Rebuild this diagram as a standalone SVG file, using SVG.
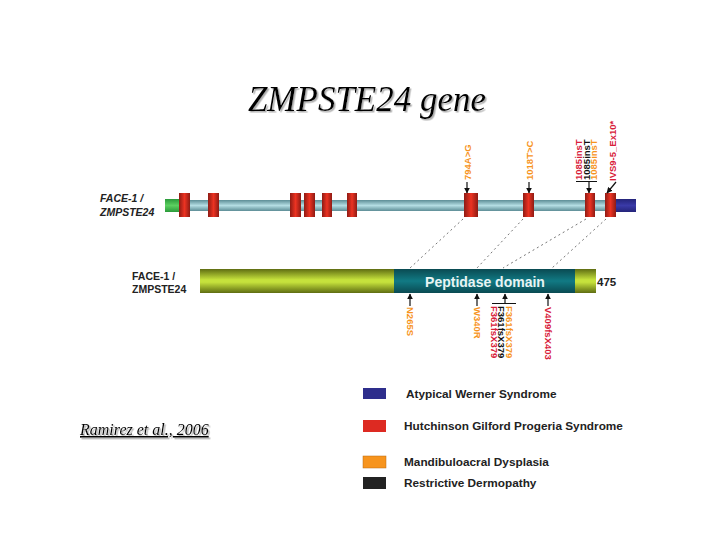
<svg xmlns="http://www.w3.org/2000/svg" width="720" height="540" viewBox="0 0 720 540">
<defs>
<linearGradient id="gBar" x1="0" y1="0" x2="0" y2="1"><stop offset="0" stop-color="#5d8d96"/><stop offset="0.5" stop-color="#b4dde3"/><stop offset="1" stop-color="#5d8d96"/></linearGradient>
<linearGradient id="gExon" x1="0" y1="0" x2="1" y2="0"><stop offset="0" stop-color="#8e1b14"/><stop offset="0.5" stop-color="#ec3322"/><stop offset="1" stop-color="#8e1b14"/></linearGradient>
<linearGradient id="gGreen" x1="0" y1="0" x2="0" y2="1"><stop offset="0" stop-color="#2a9a3a"/><stop offset="0.5" stop-color="#5cd060"/><stop offset="1" stop-color="#2a9a3a"/></linearGradient>
<linearGradient id="gBlue" x1="0" y1="0" x2="0" y2="1"><stop offset="0" stop-color="#24247a"/><stop offset="0.5" stop-color="#3a3aa8"/><stop offset="1" stop-color="#24247a"/></linearGradient>
<linearGradient id="gProt" x1="0" y1="0" x2="0" y2="1"><stop offset="0" stop-color="#5f6d12"/><stop offset="0.45" stop-color="#c6e23c"/><stop offset="0.55" stop-color="#c6e23c"/><stop offset="1" stop-color="#5f6d12"/></linearGradient>
<linearGradient id="gDom" x1="0" y1="0" x2="0" y2="1"><stop offset="0" stop-color="#0a4a52"/><stop offset="0.5" stop-color="#117a84"/><stop offset="1" stop-color="#0a4a52"/></linearGradient>
<marker id="ah" viewBox="0 0 10 10" refX="9" refY="5" markerWidth="5" markerHeight="5" orient="auto"><path d="M0,0 L10,5 L0,10 z" fill="#111"/></marker>
<filter id="sh" x="-5%" y="-20%" width="110%" height="150%"><feDropShadow dx="1.5" dy="1.5" stdDeviation="0.6" flood-color="#999" flood-opacity="0.8"/></filter>
</defs>
<style>
.lbl{font-family:"Liberation Sans",Arial,sans-serif;font-weight:bold;font-size:9.5px}
.or{fill:#f7941d}.rd{fill:#d8203a}.bk{fill:#111}
.leg{font-family:"Liberation Sans",Arial,sans-serif;font-weight:bold;font-size:11.8px;fill:#222}
.face{font-family:"Liberation Sans",Arial,sans-serif;font-weight:bold;font-size:10.5px;fill:#222}
.arr{stroke:#111;stroke-width:1.2;fill:none;marker-end:url(#ah)}
.dash{stroke:#777;stroke-width:1;stroke-dasharray:2,3;fill:none}
</style>
<rect width="720" height="540" fill="#fff"/>

<g id="title">
<text x="367" y="111" text-anchor="middle" font-family="Liberation Serif,'Times New Roman',serif" font-style="italic" font-size="35" fill="#000" filter="url(#sh)">ZMPSTE24 gene</text>
</g>

<g id="gene">
<text class="face" x="100" y="202" font-style="italic">FACE-1 /</text>
<text class="face" x="100" y="216" font-style="italic">ZMPSTE24</text>
<rect x="165" y="199" width="16" height="13" fill="url(#gGreen)"/>
<rect x="180" y="200" width="436" height="11" fill="url(#gBar)"/>
<rect x="615" y="199" width="21" height="13" fill="url(#gBlue)"/>
<g fill="url(#gExon)">
<rect x="179" y="193" width="11" height="24"/>
<rect x="208" y="193" width="11" height="24"/>
<rect x="290" y="193" width="11" height="24"/>
<rect x="304" y="193" width="11" height="24"/>
<rect x="322" y="193" width="10" height="24"/>
<rect x="347" y="193" width="10" height="24"/>
<rect x="464" y="193" width="14" height="24"/>
<rect x="523" y="193" width="11" height="24"/>
<rect x="585" y="193" width="10" height="24"/>
<rect x="605" y="193" width="11" height="24"/>
</g>
</g>

<g id="protein">
<text class="face" x="132" y="280">FACE-1 /</text>
<text class="face" x="132" y="293">ZMPSTE24</text>
<rect x="200" y="269" width="396" height="24" fill="url(#gProt)"/>
<rect x="394" y="269" width="181" height="24" fill="url(#gDom)"/>
<text x="485" y="287" text-anchor="middle" font-family="Liberation Sans,Arial,sans-serif" font-weight="bold" font-size="14" fill="#e8f4f4">Peptidase domain</text>
<text x="597" y="286" font-family="Liberation Sans,Arial,sans-serif" font-weight="bold" font-size="11.5" fill="#222">475</text>
</g>

<g id="connectors">
<path class="dash" d="M463,219 L410,268"/>
<path class="dash" d="M523,219 L477,268"/>
<path class="dash" d="M586,219 L503,268"/>
<path class="dash" d="M606,219 L552,268"/>
<path class="arr" d="M467,182 L467,193"/>
<path class="arr" d="M529,182 L529,193"/>
<path class="arr" d="M589,182 L589,193"/>
<path class="arr" d="M616,182 L607,193"/>
<path d="M576,181.5 L597,181.5" stroke="#111" stroke-width="1"/>
<path class="arr" d="M410,306 L410,294"/>
<path class="arr" d="M477,306 L477,294"/>
<path class="arr" d="M505,303 L505,294"/>
<path class="arr" d="M548,306 L548,294"/>
<path d="M492,303.5 L516,303.5" stroke="#111" stroke-width="1"/>
</g>

<g id="gene-labels">
<text class="lbl or" transform="translate(470.5,180) rotate(-90)">794A&gt;G</text>
<text class="lbl or" transform="translate(532.5,180) rotate(-90)">1018T&gt;C</text>
<text class="lbl rd" transform="translate(582,180) rotate(-90)">1085insT</text>
<text class="lbl bk" transform="translate(589.5,180) rotate(-90)">1085insT</text>
<text class="lbl or" transform="translate(597,180) rotate(-90)">1085insT</text>
<text class="lbl rd" transform="translate(616,181) rotate(-90)">IVS9-5_Ex10*</text>
</g>

<g id="protein-labels">
<text class="lbl or" transform="translate(406.5,307) rotate(90)">N265S</text>
<text class="lbl or" transform="translate(473.5,307) rotate(90)">W340R</text>
<text class="lbl rd" transform="translate(490.5,306) rotate(90)">F361fsX379</text>
<text class="lbl bk" transform="translate(498,306) rotate(90)">F361fsX379</text>
<text class="lbl or" transform="translate(505.5,306) rotate(90)">F361fsX379</text>
<text class="lbl rd" transform="translate(544.5,307) rotate(90)">V409fsX403</text>
</g>

<g id="legend">
<rect x="363" y="388" width="23" height="11" fill="#2e2e8c"/>
<text class="leg" x="406" y="398">Atypical Werner Syndrome</text>
<rect x="363" y="420" width="23" height="12" fill="#dd2a22"/>
<text class="leg" x="404" y="430">Hutchinson Gilford Progeria Syndrome</text>
<rect x="363" y="456" width="23" height="12" fill="#f7941d" stroke="#b86a10" stroke-width="0.5"/>
<text class="leg" x="404" y="466">Mandibuloacral Dysplasia</text>
<rect x="363" y="477" width="23" height="12" fill="#222"/>
<text class="leg" x="404" y="487">Restrictive Dermopathy</text>
</g>

<g id="citation">
<text x="80" y="435" font-family="Liberation Serif,'Times New Roman',serif" font-style="italic" font-size="16" fill="#000" text-decoration="underline" filter="url(#sh)">Ramirez et al., 2006</text>
</g>
</svg>
